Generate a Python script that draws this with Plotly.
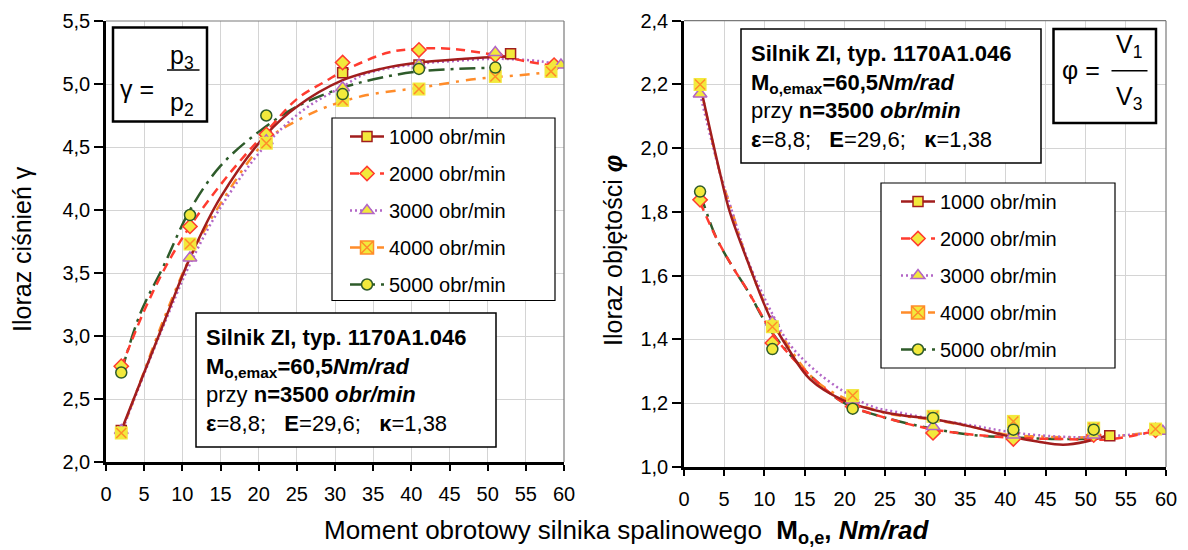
import plotly.graph_objects as go

W, H = 1188, 550
OFF = 8  # page body margin of the browser
FONT = "Liberation Sans, Arial, Helvetica, sans-serif"

speeds = ["1000 obr/min", "2000 obr/min", "3000 obr/min", "4000 obr/min", "5000 obr/min"]

# ---------------- Left chart: pressure ratio (gamma) ----------------
# measured points
g_x_1000 = [2, 11, 21, 31, 41, 53]
g_y_1000 = [2.25, 3.73, 4.58, 5.09, 5.15, 5.24]
g_x_2000 = [2, 11, 21, 31, 41, 51, 58.7]
g_y_2000 = [2.76, 3.87, 4.60, 5.17, 5.27, 5.23, 5.15]
g_x_3000 = [2, 11, 21, 31, 41, 51, 59.6]
g_y_3000 = [2.25, 3.62, 4.55, 4.97, 5.15, 5.25, 5.15]
g_x_4000 = [2, 11, 21, 31, 41, 51, 58.3]
g_y_4000 = [2.23, 3.73, 4.53, 4.87, 4.96, 5.06, 5.10]
g_x_5000 = [2, 11, 21, 31, 41, 51]
g_y_5000 = [2.71, 3.96, 4.75, 4.92, 5.12, 5.13]

# trend curves
gc_x_1000 = [2, 5, 8, 11, 15, 21, 25, 31, 36, 41, 47, 53]
gc_y_1000 = [2.25, 2.71, 3.17, 3.62, 4.10, 4.60, 4.82, 5.03, 5.12, 5.17, 5.20, 5.22]
gc_x_2000 = [2, 5, 8, 11, 15, 18, 21, 25, 29, 31, 37, 41, 45, 51, 55, 59]
gc_y_2000 = [2.75, 3.20, 3.57, 3.87, 4.20, 4.42, 4.62, 4.88, 5.03, 5.10, 5.25, 5.28, 5.28, 5.23, 5.18, 5.14]
gc_x_3000 = [2, 5, 8, 11, 15, 21, 26, 31, 34, 41, 45, 51, 57, 59.6]
gc_y_3000 = [2.23, 2.70, 3.15, 3.57, 4.02, 4.52, 4.80, 4.98, 5.08, 5.16, 5.18, 5.20, 5.18, 5.15]
gc_x_4000 = [2, 5, 8, 11, 15, 21, 26, 29, 34, 41, 48.5, 56, 58.5]
gc_y_4000 = [2.23, 2.72, 3.20, 3.62, 4.05, 4.55, 4.74, 4.82, 4.91, 4.97, 5.04, 5.08, 5.10]
gc_x_5000 = [2, 4.5, 7.5, 11, 15, 20, 25, 31, 36, 41, 46, 51]
gc_y_5000 = [2.71, 3.18, 3.55, 4.00, 4.35, 4.62, 4.82, 4.97, 5.05, 5.10, 5.12, 5.13]

# ---------------- Right chart: volume ratio (phi) ----------------
r_x_1000 = [2, 11, 21, 31, 41, 53]
r_y_1000 = [2.20, 1.44, 1.224, 1.159, 1.10, 1.098]
r_x_2000 = [2, 11, 21, 31, 41, 51, 58.7]
r_y_2000 = [1.838, 1.389, 1.19, 1.107, 1.088, 1.10, 1.115]
r_x_3000 = [2, 11, 21, 31, 41, 51, 59.6]
r_y_3000 = [2.17, 1.455, 1.21, 1.127, 1.10, 1.10, 1.112]
r_x_4000 = [2, 11, 21, 31, 41, 51, 58.7]
r_y_4000 = [2.20, 1.44, 1.224, 1.159, 1.143, 1.122, 1.119]
r_x_5000 = [2, 11, 21, 31, 41, 51]
r_y_5000 = [1.864, 1.37, 1.183, 1.154, 1.117, 1.117]

rc_x_1000 = [2, 4.5, 5.7, 8, 10.7, 13, 15.7, 19.8, 25.2, 31.5, 36, 39.8, 44, 47.2, 50.1, 52.6]
rc_y_1000 = [2.20, 1.92, 1.80, 1.64, 1.47, 1.37, 1.275, 1.21, 1.17, 1.148, 1.125, 1.10, 1.08, 1.07, 1.08, 1.098]
rc_x_2000 = [2, 4, 6, 8, 11, 12.5, 16, 20, 25, 31, 40, 47, 53, 59]
rc_y_2000 = [1.83, 1.72, 1.63, 1.55, 1.42, 1.37, 1.28, 1.20, 1.155, 1.118, 1.093, 1.088, 1.087, 1.115]
rc_x_3000 = [2, 4.5, 6, 8, 11, 13, 16, 20, 23.4, 27, 31, 36, 40, 44, 50, 55, 59.6]
rc_y_3000 = [2.17, 1.92, 1.80, 1.645, 1.48, 1.39, 1.31, 1.235, 1.19, 1.17, 1.15, 1.13, 1.112, 1.10, 1.093, 1.10, 1.11]
rc_x_4000 = [2, 4.5, 6, 8, 11, 16, 20, 25, 31, 36, 40, 45, 50, 55, 58.7]
rc_y_4000 = [2.20, 1.92, 1.80, 1.64, 1.465, 1.28, 1.215, 1.17, 1.148, 1.125, 1.102, 1.095, 1.093, 1.10, 1.11]
rc_x_5000 = [2, 4, 6, 8, 11, 16, 20, 25, 31, 36, 41, 46, 51]
rc_y_5000 = [1.86, 1.72, 1.63, 1.55, 1.42, 1.28, 1.20, 1.155, 1.12, 1.10, 1.093, 1.088, 1.088]

YEL = "#f2e93c"
styles = [
    dict(lc="#a11d1d", dash="solid", sym="square", size=10, mline="#a11d1d"),
    dict(lc="#ff3b2f", dash="9px,6px", sym="diamond", size=11, mline="#ff3b2f"),
    dict(lc="#b266c6", dash="2px,3px", sym="triangle-up", size=12, mline="#b266c6"),
    dict(lc="#ff8c2a", dash="10px,7px,3px,7px", sym="square", size=13, mline=YEL),
    dict(lc="#2e5b2a", dash="16px,6px,3px,6px", sym="circle", size=11, mline="#2e5b2a"),
]

g_pts = [(g_x_1000, g_y_1000), (g_x_2000, g_y_2000), (g_x_3000, g_y_3000), (g_x_4000, g_y_4000), (g_x_5000, g_y_5000)]
g_crv = [(gc_x_1000, gc_y_1000), (gc_x_2000, gc_y_2000), (gc_x_3000, gc_y_3000), (gc_x_4000, gc_y_4000), (gc_x_5000, gc_y_5000)]
r_pts = [(r_x_1000, r_y_1000), (r_x_2000, r_y_2000), (r_x_3000, r_y_3000), (r_x_4000, r_y_4000), (r_x_5000, r_y_5000)]
r_crv = [(rc_x_1000, rc_y_1000), (rc_x_2000, rc_y_2000), (rc_x_3000, rc_y_3000), (rc_x_4000, rc_y_4000), (rc_x_5000, rc_y_5000)]

fig = go.Figure()

for panel, pts, crv, xa, ya, leg in [("g", g_pts, g_crv, "x", "y", "legend"), ("r", r_pts, r_crv, "x2", "y2", "legend2")]:
    # curves, drawn in reverse so 1000 is on top
    for i in reversed(range(5)):
        st = styles[i]
        fig.add_trace(go.Scatter(x=crv[i][0], y=crv[i][1], mode="lines", line_shape="spline",
                                 line=dict(color=st["lc"], width=2.5, dash=st["dash"]),
                                 xaxis=xa, yaxis=ya, showlegend=False, hoverinfo="skip"))
    # markers
    for i in range(5):
        st = styles[i]
        lw = 0 if i == 3 else 1.5
        fig.add_trace(go.Scatter(x=pts[i][0], y=pts[i][1], mode="markers",
                                 marker=dict(symbol=st["sym"], size=st["size"], color=YEL,
                                             line=dict(color=st["mline"], width=lw)),
                                 xaxis=xa, yaxis=ya, showlegend=False))
        if i == 3:
            fig.add_trace(go.Scatter(x=pts[i][0], y=pts[i][1], mode="markers",
                                     marker=dict(symbol="x-thin-open", size=10, color=st["lc"],
                                                 line=dict(color=st["lc"], width=1.5)),
                                     xaxis=xa, yaxis=ya, showlegend=False))
    # legend entries
    for i in range(5):
        st = styles[i]
        sym = "square-x" if i == 3 else st["sym"]
        mline = st["lc"] if i == 3 else st["mline"]
        fig.add_trace(go.Scatter(x=[None], y=[None], mode="lines+markers", name=speeds[i],
                                 line=dict(color=st["lc"], width=2.5, dash=st["dash"]),
                                 marker=dict(symbol=sym, size=st["size"], color=YEL,
                                             line=dict(color=mline, width=1.5)),
                                 xaxis=xa, yaxis=ya, legend=leg, legendgroup=panel + str(i),
                                 showlegend=True))


def px(x):
    return (x - OFF) / W


def py(y):
    return 1 - (y - OFF) / H


axis_common = dict(showgrid=True, gridcolor="#d4d4d4", gridwidth=1.2, zeroline=False,
                   showline=True, linecolor="black", linewidth=2.5, ticks="outside",
                   tickcolor="black", tickwidth=2, automargin=False,
                   tickfont=dict(size=20, color="black", family=FONT))

fig.update_layout(
    width=W, height=H, margin=dict(l=0, r=0, t=0, b=0, autoexpand=False),
    paper_bgcolor="white", plot_bgcolor="white",
    font=dict(family=FONT, color="black"),
    separators=", ",
    xaxis=dict(domain=[px(106), px(564)], range=[0, 60], dtick=5, tick0=0, anchor="y",
               ticklen=6, ticklabelstandoff=6, **axis_common),
    yaxis=dict(domain=[py(462), py(21)], range=[2.0, 5.5], dtick=0.5, tick0=2.0,
               tickformat=".1f", anchor="x", ticklen=9, **axis_common),
    xaxis2=dict(domain=[px(684), px(1166)], range=[0, 60], dtick=5, tick0=0, anchor="y2",
                ticklen=6, ticklabelstandoff=6, **axis_common),
    yaxis2=dict(domain=[py(467), py(20.7)], range=[1.0, 2.4], dtick=0.2, tick0=1.0,
                tickformat=".1f", anchor="x2", ticklen=9, **axis_common),
    legend=dict(x=px(345), y=py(117), xanchor="left", yanchor="top", bgcolor="rgba(0,0,0,0)",
                borderwidth=0, font=dict(size=20, family=FONT), tracegroupgap=8, itemwidth=34),
    legend2=dict(x=px(896), y=py(182), xanchor="left", yanchor="top", bgcolor="rgba(0,0,0,0)",
                 borderwidth=0, font=dict(size=20, family=FONT), tracegroupgap=8, itemwidth=34),
)

shapes = []
for xr, yr in [("x domain", "y domain"), ("x2 domain", "y2 domain")]:
    shapes.append(dict(type="line", xref=xr, yref=yr, x0=0, x1=1, y0=1, y1=1,
                       line=dict(color="#7a7a7a", width=1.2), layer="above"))
    shapes.append(dict(type="line", xref=xr, yref=yr, x0=1, x1=1, y0=0, y1=1,
                       line=dict(color="#7a7a7a", width=1.2), layer="above"))


def rect(x0, y0, x1, y1, w):
    return dict(type="rect", xref="paper", yref="paper", x0=px(x0), x1=px(x1), y0=py(y1), y1=py(y0),
                fillcolor="white", line=dict(color="black", width=w), layer="above")


def hline(x0, x1, y, w=1.5):
    return dict(type="line", xref="paper", yref="paper", x0=px(x0), x1=px(x1), y0=py(y), y1=py(y),
                line=dict(color="black", width=w), layer="above")


shapes += [
    rect(332, 118, 555, 300.5, 1.2),      # left legend
    rect(881, 183, 1115, 368, 1.2),       # right legend
    rect(196, 313, 496, 447, 1.5),        # left info box
    rect(741, 29, 1041, 163, 1.5),        # right info box
    rect(113, 27.5, 207, 121.5, 2.5),     # gamma box
    rect(1053.5, 29, 1156, 123, 2.5),     # phi box
    hline(167, 199.5, 70),
    hline(1111.5, 1147.5, 70.7),
]
fig.update_layout(shapes=shapes)

NB = "\u00a0"
info = ("<b>Silnik ZI, typ. 1170A1.046</b><br>"
        "<b>M<sub>o,emax</sub>=60,5<i>Nm/rad</i></b><br>"
        "przy <b>n=3500 <i>obr/min</i></b><br>"
        "<b>ε</b>=8,8;" + NB * 3 + "<b>E</b>=29,6;" + NB * 3 + "<b>κ</b>=1,38")


def ann(x, y, text, size, **kw):
    d = dict(x=px(x), y=py(y), xref="paper", yref="paper", text=text, showarrow=False,
             font=dict(size=size, family=FONT, color="black"))
    d.update(kw)
    return d


annotations = [
    ann(204, 380, info, 22, xanchor="left", yanchor="middle", align="left"),
    ann(749, 96, info, 22, xanchor="left", yanchor="middle", align="left"),
    ann(137, 89, "γ =", 25, xanchor="center", yanchor="middle"),
    ann(182, 57, "p<sub>3</sub>", 25, xanchor="center", yanchor="middle"),
    ann(182, 104, "p<sub>2</sub>", 25, xanchor="center", yanchor="middle"),
    ann(1081, 70, "φ =", 25, xanchor="center", yanchor="middle"),
    ann(1129, 46, "V<sub>1</sub>", 25, xanchor="center", yanchor="middle"),
    ann(1129, 98, "V<sub>3</sub>", 25, xanchor="center", yanchor="middle"),
    ann(22, 249, "Iloraz ciśnień γ", 25, textangle=-90, xanchor="center", yanchor="middle"),
    ann(613, 251, "Iloraz objętości <b><i>φ</i></b>", 25, textangle=-90, xanchor="center", yanchor="middle"),
    ann(626, 531, "Moment obrotowy silnika spalinowego" + NB * 2 + "<b>M<sub>o,e</sub>, <i>Nm/rad</i></b>",
        26, xanchor="center", yanchor="middle"),
]
fig.update_layout(annotations=annotations)

fig.write_html("out.html")
